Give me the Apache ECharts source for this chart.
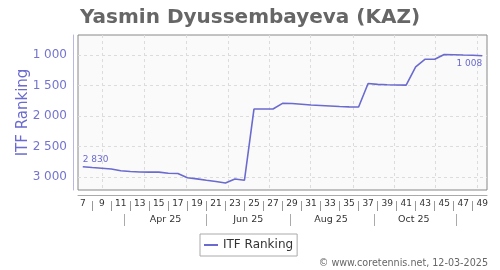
<!DOCTYPE html>
<html>
<head>
<meta charset="utf-8">
<script src="https://cdn.jsdelivr.net/npm/echarts@6/dist/echarts.min.js"></script>
<style>html,body{margin:0;padding:0;background:#fff}#c{width:500px;height:270px}</style>
</head>
<body>
<div id="c"></div>
<script>
const weeks = ['7','8','9','10','11','12','13','14','15','16','17','18','19','20','21','22','23','24','25','26','27','28','29','30','31','32','33','34','35','36','37','38','39','40','41','42','43','44','45','46','47','48','49'];
const ranking = [2830,2843,2854,2867,2895,2908,2916,2918,2918,2936,2941,3011,3029,3052,3073,3098,3032,3052,1883,1883,1883,1790,1793,1805,1818,1826,1834,1842,1847,1850,1463,1478,1484,1489,1490,1191,1065,1065,989,992,997,1000,1008];
const yTicks = [1000,1500,2000,2500,3000];
const monthLabels = ['Apr 25','Jun 25','Aug 25','Oct 25'];
const monthLabelPos = [15.7,24.4,33.1,41.8];
const monthSepPos = [11.4,20.0,28.8,37.6,46.3];
const monthGridPos = [9.1,13.5,17.9,22.25,26.6,30.95,35.4,39.7,44.1,48.5];

const fmt = v => String(v).replace(/\B(?=(\d{3})+(?!\d))/g, ' ');
const FONT = 'DejaVu Sans';
const LINE = '#6a6acf';

const seriesData = ranking.map((v, i) => {
  if (i === 0) return {value: v, label: {show: true, position: 'top', align: 'left', distance: 3}};
  if (i === ranking.length - 1) return {value: v, label: {show: true, position: 'bottom', align: 'right', distance: 3}};
  return v;
});

const chart = echarts.init(document.getElementById('c'), null, {renderer: 'canvas'});
chart.setOption({
  animation: false,
  textStyle: {fontFamily: FONT},
  title: {
    text: 'Yasmin Dyussembayeva (KAZ)',
    left: 'center', top: 3,
    textStyle: {fontFamily: FONT, fontSize: 20, fontWeight: 'bold', color: '#666'}
  },
  grid: {
    left: 78, right: 13, top: 35, bottom: 80,
    show: true, borderColor: '#888', borderWidth: 1, backgroundColor: '#fafafa'
  },
  legend: {
    left: 200, top: 234,
    padding: [5, 4],
    borderColor: '#aaa', borderWidth: 1,
    icon: 'rect', itemWidth: 14, itemHeight: 2, itemGap: 5,
    textStyle: {fontFamily: FONT, fontSize: 12, color: '#333'},
    data: ['ITF Ranking']
  },
  graphic: [{
    type: 'text', right: 12, top: 258,
    style: {text: '© www.coretennis.net, 12-03-2025', fontFamily: FONT, fontSize: 9.6, fill: '#666'}
  }],
  xAxis: [
    {
      type: 'category', data: weeks, boundaryGap: true, position: 'bottom', offset: 5,
      axisLine: {show: true, lineStyle: {color: '#aaa'}},
      axisTick: {show: false},
      axisLabel: {interval: 1, margin: 4, fontFamily: FONT, fontSize: 9, color: '#333'},
      splitLine: {show: false}
    },
    {
      type: 'value', min: 6.5, max: 49.5, position: 'bottom', offset: 24,
      axisLine: {show: false},
      axisTick: {show: true, customValues: monthSepPos, length: 12, lineStyle: {color: '#aaa'}},
      axisLabel: {
        customValues: monthLabelPos, margin: 1, fontFamily: FONT, fontSize: 9.5, color: '#333',
        formatter: v => {
          let best = 0;
          monthLabelPos.forEach((p, i) => { if (Math.abs(p - v) < Math.abs(monthLabelPos[best] - v)) best = i; });
          return monthLabels[best];
        }
      },
      splitLine: {show: false}
    },
    {
      type: 'value', min: 6.5, max: 49.5, position: 'bottom',
      axisLine: {show: false},
      axisTick: {show: false, customValues: monthGridPos},
      axisLabel: {show: false, customValues: monthGridPos},
      splitLine: {show: true, lineStyle: {color: '#dcdcdc', type: [3, 3]}}
    },
    {
      type: 'category', data: weeks, boundaryGap: true, position: 'bottom', offset: 11,
      axisLine: {show: false},
      axisTick: {show: true, alignWithLabel: true, interval: (i) => i % 2 === 1, length: 10, lineStyle: {color: '#999'}},
      axisLabel: {show: false},
      splitLine: {show: false}
    }
  ],
  yAxis: {
    type: 'value', inverse: true, min: 668, max: 3212, position: 'left', offset: 5,
    name: 'ITF Ranking', nameLocation: 'middle', nameGap: 42, nameMoveOverlap: false,
    nameTextStyle: {fontFamily: FONT, fontSize: 15, color: '#6a6acf'},
    axisLine: {show: true, lineStyle: {color: '#b8b8e4'}},
    axisTick: {show: false, customValues: yTicks},
    axisLabel: {customValues: yTicks, margin: 6, fontFamily: FONT, fontSize: 12, color: '#7474d0', formatter: fmt},
    splitLine: {show: true, lineStyle: {color: '#dcdcdc', type: [3, 3]}}
  },
  series: [{
    name: 'ITF Ranking', type: 'line', xAxisIndex: 0,
    data: seriesData,
    showSymbol: true, symbol: 'circle', symbolSize: 0.01,
    lineStyle: {color: LINE, width: 1.6},
    itemStyle: {color: LINE},
    emphasis: {disabled: true},
    label: {show: false, fontFamily: FONT, fontSize: 9, color: '#6a6acf', formatter: p => fmt(p.value)}
  }]
});
</script>
</body>
</html>
